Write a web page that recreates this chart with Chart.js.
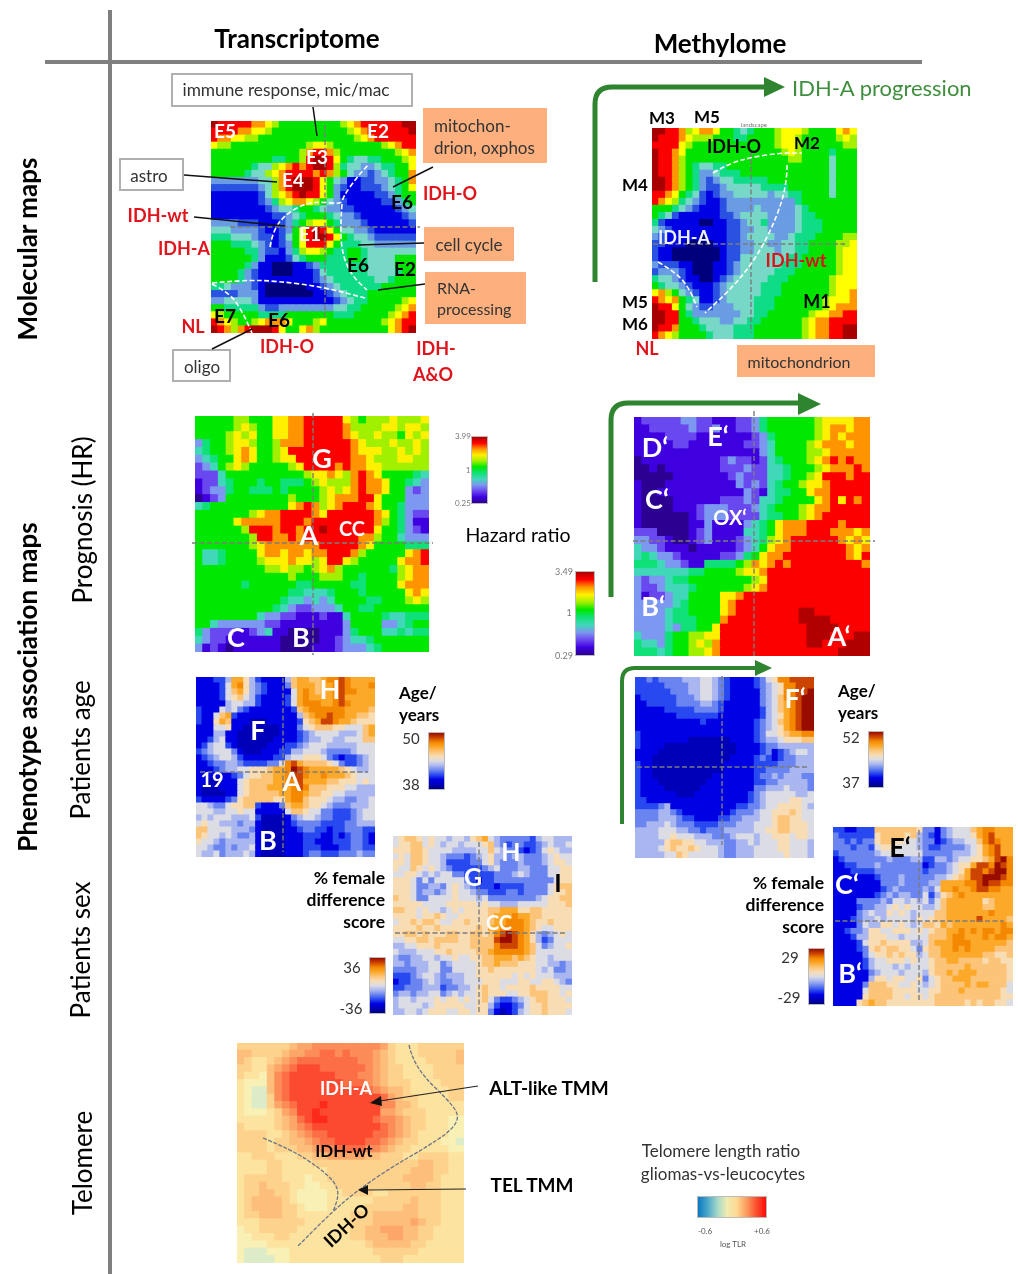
<!DOCTYPE html>
<html>
<head>
<meta charset="utf-8">
<title>Molecular and phenotype maps</title>
<script src="https://cdn.jsdelivr.net/npm/chart.js@4/dist/chart.umd.min.js"></script>
<style>
  html, body { margin: 0; padding: 0; background: #fff; }
  #page { position: relative; width: 1018px; height: 1274px; overflow: hidden; font-family: Lato, "Open Sans", sans-serif; color: #000; }
  #page canvas { position: absolute; filter: blur(0.6px); }
  #lines { position: absolute; left: 0; top: 0; }
  .note { position: absolute; white-space: nowrap; line-height: 1; }
  .box { position: absolute; box-sizing: border-box; }
  .bar { position: absolute; border: 1px solid #bbb; box-sizing: border-box; }
</style>
</head>
<body>
<div id="page"></div>
<script>
// Each map is 30 rows of 30 levels (0-9, a, b), spaces only for reading
const molTransRows = [
  "baaaaa9987 6666666667 89aaaaaabb",
  "aaaa998876 6666666666 789aaaaaab",
  "a998877666 6666666666 6789aaaaaa",
  "8776666666 6666788766 66666789aa",
  "6666666666 66679aa976 6666666789",
  "6666666665 5667abba86 5445566678",
  "6666665447 89a9abba75 4433455668",
  "6666654478 9aaaa9a976 4332345669",
  "3333333447 9abbba8643 1122334569",
  "2222222347 9abbba8632 1122234568",
  "1111111247 89abaa8631 1111223566",
  "1111111235 7899876432 1111122356",
  "1111111123 4456654332 2111111234",
  "1111111112 2345666543 3211111123",
  "3333222111 2356788653 3321111112",
  "4443333211 2368aba864 4332111111",
  "5554443221 2468abba86 5443222222",
  "6665554321 2368aaa865 5544333333",
  "6666655322 1357887655 6654444444",
  "6666665311 1245666555 6654444666",
  "6666653110 0011235555 5554444666",
  "6666532110 0011124555 5554444566",
  "6666532111 1111123455 5555445666",
  "5543332100 0000112345 5555566666",
  "2222333100 0000011234 5556666666",
  "3344443111 1111111123 4556666678",
  "6655555322 3333333344 5566666789",
  "8766666555 5666666655 566666789a",
  "a987667899 9866678666 66666789aa",
  "ba979abbba 8668976666 66666689ab"
];
const molMethRows = [
  "bbaa978998 6654566678 8876666898",
  "baaa987776 6655666678 8766666787",
  "aaaa876666 6666666678 8766666677",
  "baa9866666 6666666667 8766665666",
  "baa9766666 6666666666 7766664666",
  "baa9765445 5666666666 6666664666",
  "baa9765334 5556666666 6666664666",
  "bba9765323 4455555666 6666664666",
  "bba9765322 3444445555 6666664666",
  "aa98654212 3344444344 5566664666",
  "a987543211 2333333333 3566666666",
  "6665432111 2333343333 3456666666",
  "6542111111 2234444333 3455666666",
  "5211111001 1223445333 3455566666",
  "4321111111 1223344333 3455566666",
  "3211111011 1223444433 4555666677",
  "2211100001 1223344334 4556666778",
  "2110000000 1223344434 4556666788",
  "2110000000 1224444444 5566666788",
  "3222110001 1234444445 5566666788",
  "2333210001 1234444455 5666666788",
  "5443211001 2344444555 6666667888",
  "6544321112 3444445556 6666667888",
  "8976432112 3444445556 6666667889",
  "a989654112 3444455566 6666678889",
  "baa8643223 3344455566 6666678999",
  "bbaa653333 3334455666 66678899aa",
  "bbaa665444 3344556666 667899aaaa",
  "baa9666544 4455566666 667899aabb",
  "a987666654 4455566666 667899aabb"
];
const hrTransRows = [
  "6666677666 8899aaaaa8 7677787778",
  "6666678766 8899aaaaa9 7777887887",
  "6666787866 8899aaaaa9 8778776878",
  "3566788766 7999aaaaaa 9877787787",
  "4566789866 78aaaaaaaa 9888778787",
  "3456689866 788aaaaaaa 9987778877",
  "2346787666 6678aaaa9a 9988777777",
  "2224666666 6666788987 9a98666654",
  "1224566656 6555678777 9a99866543",
  "1233566555 6566667878 9a99866323",
  "0123666666 6676667899 9aa8666333",
  "4566666666 6689a9789a aa98665333",
  "6666666789 9aaaa98aaa aaa9865322",
  "6666689999 9aaa9aaaaa aaa9765311",
  "6666667aaa 9aa9aabaaa aaa8665321",
  "66666667aa 99a9aaaaaa a997664333",
  "6666666789 999999aaaa a986666555",
  "6445666689 9899899aaa 976666689a",
  "6445666678 8898878aa8 766666899a",
  "6666666667 7877678976 6666657899",
  "6666666666 6676667776 6566667899",
  "6666665666 6665566666 5566668999",
  "6666666666 6655444566 6566666898",
  "6666666666 6544343466 6655666787",
  "6666666666 5432233346 6556666666",
  "6666666643 3221112114 6666544555",
  "6643333332 2111111113 6666334566",
  "5322211234 1100001113 5666445455",
  "4322111111 1000001123 4456666666",
  "3121011111 1000011123 3345666666"
];
const hrMethRows = [
  "1222223322 1112235666 6667888899",
  "1122222322 3112235666 6667899899",
  "1111222211 1111123566 6667898999",
  "1111122111 1111223466 6678999899",
  "1111111111 1111113466 6677899999",
  "0111111111 1232212456 66789a9a99",
  "0010111111 1222322445 6667899 9a9",
  "0000011111 1123222445 6678aaa9aa",
  "1000111111 1113232456 67889aaaaa",
  "1001111111 1111321455 66899aaaaa",
  "1000011111 1222324456 66689a8a9a",
  "1000011123 3322234566 67899aaaaa",
  "1000000123 3322224556 6789aaaaaa",
  "1000000113 1111345689 99aaaa9aaa",
  "2220000123 1111445689 99aaa99989",
  "3322100123 1112345789 aaaaaa9898",
  "4332111011 1112346899 aaaaaaa989",
  "4543321111 1223568 99a aaaaaaa98a",
  "5554332115 5556798 9a9 aaaaaaaaa9",
  "4444444556 6667889aaa aaaaaaaaaa",
  "3233455666 6666678aaa aaaaaaaaaa",
  "3223444566 6666789aaa aaaaaaaaaa",
  "3122344666 6889aaaaaa aaaaaaaaaa",
  "3333345666 689aaaaaaa aaaaaaaaaa",
  "3333455666 689aaaaaaa abbaaaaaaa",
  "3333455566 69aaaaaaaa abbbbaaaaa",
  "3333435566 8aaaaaaaaa aabbbbaaaa",
  "4333566778 8aaaaaaaaa aabbbaaabb",
  "5443566787 9aaaaaaaaa aabbaaabbb",
  "5554566778 9aaaaaaaaa aaaaaabbbb"
];
const ageTransRows = [
  "1112248864 2111147887 7899a98888",
  "1111258964 3211137888 7889a98889",
  "1111257864 3211115898 7889a99888",
  "1111256754 2111125898 8889a88888",
  "1111145544 2111125899 9889a98888",
  "2111545321 1111112789 9999988887",
  "2115782111 1111111478 99a9988776",
  "2116871110 0011111267 8aa9887666",
  "1115561100 0000111356 7776655578",
  "1114411000 0000111234 5555444578",
  "1124511000 0001111234 4554455577",
  "1245521000 0011122345 5544444555",
  "2345553100 0111224455 5433334555",
  "1234554211 1112245566 6532122345",
  "1123344322 2233 59a877 7765322345",
  "1112344556 667889ba98 8888765445",
  "1111112356 677889aa98 8988876555",
  "1100111567 7778899a88 8877666565",
  "1000111567 7788889a97 7766655444",
  "1000011567 7777889987 7665544444",
  "2111123677 7776689976 6654433445",
  "5543356677 2111378876 6543334445",
  "5554455655 1111157765 5332223455",
  "4545554445 2000013455 4332223455",
  "5655444344 1000012333 3222233444",
  "7755554443 1000011233 2212233322",
  "7655454334 1000011122 2112123321",
  "6554344444 1000011122 1112223321",
  "5543343445 1000011122 2111223322",
  "5445344454 1000011123 3222333433"
];
const ageMethRows = [
  "2232333344 4554321111 2356 99aaaa",
  "2222233334 4554321111 2345699aaa",
  "2222223334 4554321111 1345699aab",
  "1222222333 4554321111 1345799abb",
  "1122222333 3443211111 1345789abb",
  "1111122222 3333211111 1245789abb",
  "1111111222 2222111111 1245689abb",
  "1111111111 1211111111 2345789abb",
  "1111111111 1111111111 2345689abb",
  "2111111111 1111111111 2355678899",
  "2111111110 0000001111 2344566677",
  "2111100000 0000000111 1233444444",
  "1111000000 0000000111 1231234554",
  "1110000000 0000001111 2321233444",
  "2110000000 0000011111 2222333444",
  "2110000000 0000011111 2233334444",
  "2110000000 0001111111 2334344433",
  "2111000000 0011111111 2233444443",
  "2111100000 0111111111 3344454443",
  "2111111000 1111111112 3455555445",
  "2211111111 1111111112 3455556655",
  "2222341111 1111111223 3455666654",
  "3333443211 1111112333 4556667655",
  "3333444322 1111223344 4556776655",
  "3344454333 2222333444 5556776665",
  "4444555443 3233344444 5566776665",
  "4444556555 4443334555 4556665665",
  "4444467766 5544433445 4555665554",
  "4444567667 6555433444 5555665554",
  "4444455765 5555433444 5555565554"
];
const sexTransRows = [
  "5677656554 5546785433 3332455444",
  "5667756545 5455567432 3322345445",
  "6667765555 4444557543 3212356544",
  "5657765543 3323456443 4433345655",
  "6657765542 2223356433 3433345665",
  "6557656543 2222234533 3443335566",
  "5566545455 3322222333 4543335566",
  "6665353555 5532122333 3333333566",
  "6665334435 6543222122 2233335677",
  "6665344345 6554332223 3233335667",
  "7665335555 6555453333 3333456677",
  "6666655556 6666565544 4555556667",
  "7766565545 6566667788 8667766666",
  "6666566765 5666667888 9887766666",
  "5667677655 6676667889 9987667666",
  "6666766766 6666768899 9987655666",
  "6677676667 7667767 9ab a986434565",
  "5566776777 7667777abb a986423555",
  "4455666766 6667777 9aa a987534556",
  "5444555667 6666778 999 9987555555",
  "4334455455 6556677888 7876554555",
  "4434445534 5555677877 7666554434",
  "3333445533 5555667666 6666545334",
  "2223455434 4455666666 5656555444",
  "1223345433 4455566655 5665566543",
  "2233344423 3445676656 6667666655",
  "3443445534 5455676665 5667776656",
  "4554555656 6565675322 3456776665",
  "4555545666 6655664211 2356676666",
  "4455456665 5665663101 2456676665"
];
const sexMethRows = [
  "2211222777 7777633134 5557899888",
  "3222222677 7767432134 555689a888",
  "3323233677 6655433123 445579a988",
  "3332332566 5555432233 3345689a88",
  "2333333455 5555533333 4445689a88",
  "1233333334 3334422443 4556678ab9",
  "1122333433 3333312334 5668aa9ba9",
  "1112222333 3333323334 568aa9abb9",
  "1111111233 3433333445 678aabbba9",
  "1111111133 3433334488 8899abaa99",
  "1111111123 4333343588 9889aa9988",
  "1111111234 3443352467 8988888888",
  "1111333343 5545453578 8888867888",
  "1111233445 6565544578 8888877888",
  "1111345446 5654555778 8888889888",
  "1112344545 5554656778 8888a88887",
  "1111354466 5654577687 8888888898",
  "1123346655 6665656778 8989899899",
  "1112446665 5455557778 9988898998",
  "1111256676 6664457888 9998888887",
  "1111236767 7665367788 9898888777",
  "1111135667 6766457788 8888877667",
  "1111124556 6656556778 8777767766",
  "1111124555 4545556777 7787777776",
  "1111113455 5455546778 7888777776",
  "1111114665 6655635677 8887777776",
  "1111137776 6556545677 7787887775",
  "1111157777 6666556677 7877777765",
  "1111167777 6656656777 7777777766",
  "1111678776 6666666777 7767677665"
];
const telomereRows = [
  "3333333455 6666666665 3222333333",
  "4433334556 6776766654 3222333334",
  "4322345677 7777776654 3222233334",
  "3322456788 8777777654 3322223333",
  "3221467888 8887776654 3322223333",
  "2111467888 8888777654 3332222333",
  "2100467888 8888888765 4432222233",
  "2100367888 8888888887 5433222233",
  "2100356788 8988888886 6443222222",
  "2111235688 9888888885 5433322222",
  "2222234578 9988888876 6543322211",
  "3222234567 8888888887 6543322211",
  "3333223456 7788888877 6543222211",
  "3333233445 6778888776 5433222110",
  "3333233344 5667777665 4332222211",
  "2233322233 4455555443 3322333322",
  "2222332222 3333333333 3333443322",
  "2222332222 2233333333 3334443322",
  "2333332221 2233333333 3344443222",
  "2334333221 1223333333 3334433222",
  "2334433211 1122333322 3333333222",
  "2344443211 1122222233 3334333222",
  "2344443321 1122222333 3344333222",
  "2334443322 2222233344 4444333222",
  "2223333332 2222233344 4445433222",
  "1223333322 2222233445 5544332222",
  "1122233222 2222233444 5544332222",
  "1111222222 2222222344 4443322222",
  "1000111222 2222222233 3333222222",
  "1000011222 2222222223 3322222222"
];

// colours for levels 0..b
const rainbowColors = ["#00007c", "#0000e4", "#2a52e2", "#6a9ce4", "#78d8c8", "#10dc88", "#00e400", "#a4f000", "#ffff00", "#ff9800", "#fa0000", "#a80000"];
const hazardColors = ["#2c0090", "#3f00e0", "#6a48f0", "#7c98f0", "#40d8b8", "#10e078", "#00e800", "#a0f000", "#fff000", "#ff9400", "#fc0000", "#b00000"];
const ageSexColors = ["#0000b8", "#0000e4", "#2848f0", "#6a84f0", "#aab6f0", "#dcdce4", "#f8dcb4", "#fcc478", "#fca828", "#f48800", "#cc4400", "#980c00"];
const ageSexBarColors = ["#000080", ...ageSexColors];
const telomereColors = ["#dcebc8", "#f8f0b4", "#fde3a0", "#fdd28c", "#fdbe7c", "#fda66a", "#fc8c58", "#fc6e46", "#fc4a30", "#fc2a1c"];
const telomereBarColors = ["#0a78c0", "#4aa8c8", "#a4d8c8", "#f0ecb0", "#fdd890", "#fc9c60", "#fc5030", "#fc0a0a"];

const page = document.getElementById('page');

/////////////////////////////// Heatmaps //////////////////////////////////
const drawHeatmap = (rows, colors, left, top, width, height) => {
    const canvas = document.createElement('canvas');
    canvas.width = width;
    canvas.height = height;
    canvas.style.left = left + 'px';
    canvas.style.top = top + 'px';
    page.appendChild(canvas);

    const cells = [];
    rows.forEach((row, y) => {
        row.replace(/ /g, '').split('').forEach((ch, x) => {
            cells.push({ x: x, y: y, level: parseInt(ch, 12) });
        });
    });
    const side = Math.max(width / rows.length, height / rows.length) + 1;

    new Chart(canvas, {
        type: 'scatter',
        data: {
            datasets: [{
                data: cells,
                pointStyle: 'rect',
                pointRadius: side * Math.SQRT1_2,
                borderWidth: 0,
                pointBorderWidth: 0,
                backgroundColor: ctx => colors[ctx.raw.level]
            }]
        },
        options: {
            responsive: false,
            animation: false,
            events: [],
            layout: { padding: 0, autoPadding: false },
            scales: {
                x: { display: false, min: -0.5, max: rows.length - 0.5 },
                y: { display: false, reverse: true, min: -0.5, max: rows.length - 0.5 }
            },
            plugins: { legend: { display: false }, tooltip: { enabled: false } }
        }
    });
};

drawHeatmap(molTransRows, rainbowColors, 211, 121, 205, 212);
drawHeatmap(molMethRows, rainbowColors, 652, 128, 205, 211);
drawHeatmap(hrTransRows, hazardColors, 195, 416, 234, 236);
drawHeatmap(hrMethRows, hazardColors, 634, 417, 236, 239);
drawHeatmap(ageTransRows, ageSexColors, 196, 677, 179, 180);
drawHeatmap(ageMethRows, ageSexColors, 635, 677, 179, 181);
drawHeatmap(sexTransRows, ageSexColors, 393, 836, 179, 179);
drawHeatmap(sexMethRows, ageSexColors, 833, 827, 180, 179);
drawHeatmap(telomereRows, telomereColors, 237, 1043, 227, 220);

/////////////////////////////// Colour bars //////////////////////////////////
const addBar = (colors, left, top, width, height, direction) => {
    const bar = document.createElement('div');
    bar.className = 'bar';
    bar.style.cssText = `left:${left}px;top:${top}px;width:${width}px;height:${height}px;` +
        `background:linear-gradient(${direction}, ${colors.join(',')})`;
    page.appendChild(bar);
};
addBar(hazardColors, 471, 436, 17, 68, 'to top');
addBar(hazardColors, 575, 571, 20, 85, 'to top');
addBar(ageSexBarColors, 428, 732, 17, 58, 'to top');
addBar(ageSexBarColors, 868, 731, 16, 57, 'to top');
addBar(ageSexBarColors, 369, 957, 17, 57, 'to top');
addBar(ageSexBarColors, 808, 948, 17, 57, 'to top');
addBar(telomereBarColors, 697, 1196, 70, 22, 'to right');

/////////////////////////////// Boxes //////////////////////////////////
const addBox = (left, top, width, height, isOrange) => {
    const box = document.createElement('div');
    box.className = 'box';
    box.style.cssText = `left:${left}px;top:${top}px;width:${width}px;height:${height}px;` +
        (isOrange ? 'background:#fdb07e;' : 'background:#fff;border:2px solid #b0b0b0;');
    page.appendChild(box);
};
addBox(171, 73, 242, 34, false);
addBox(119, 158, 65, 33, false);
addBox(172, 349, 59, 33, false);
addBox(423, 108, 124, 55, true);
addBox(424, 227, 90, 34, true);
addBox(425, 272, 101, 52, true);
addBox(737, 345, 138, 32, true);

/////////////////////////////// Lines //////////////////////////////////
const svgNS = 'http://www.w3.org/2000/svg';
const svg = document.createElementNS(svgNS, 'svg');
svg.setAttribute('id', 'lines');
svg.setAttribute('width', 1018);
svg.setAttribute('height', 1274);
page.appendChild(svg);

const addPath = (d, stroke, width, dash) => {
    const p = document.createElementNS(svgNS, 'path');
    p.setAttribute('d', d);
    p.setAttribute('fill', 'none');
    p.setAttribute('stroke', stroke);
    p.setAttribute('stroke-width', width);
    if (dash) p.setAttribute('stroke-dasharray', dash);
    svg.appendChild(p);
};
const addHead = (pts, fill) => {
    const p = document.createElementNS(svgNS, 'polygon');
    p.setAttribute('points', pts);
    p.setAttribute('fill', fill);
    svg.appendChild(p);
};
const smooth = (pts) => {
    let d = `M${pts[0][0]} ${pts[0][1]}`;
    for (let i = 1; i < pts.length - 1; i++) {
        const mx = (pts[i][0] + pts[i + 1][0]) / 2;
        const my = (pts[i][1] + pts[i + 1][1]) / 2;
        d += ` Q${pts[i][0]} ${pts[i][1]} ${mx} ${my}`;
    }
    const last = pts[pts.length - 1];
    return d + ` L${last[0]} ${last[1]}`;
};

// frame
addPath('M110 10 V1274', '#7f7f7f', 4);
addPath('M45 62 H922', '#7f7f7f', 4);

// crosshairs on the maps
[
    [230, 420, 227, 325, 125, 317],
    [653, 845, 244, 751, 152, 333],
    [192, 433, 543, 313, 413, 655],
    [633, 875, 541, 754, 411, 657],
    [200, 368, 772, 283, 678, 852],
    [637, 807, 767, 722, 676, 845],
    [395, 565, 933, 479, 842, 1012],
    [835, 1004, 921, 919, 830, 1000]
].forEach(([x1, x2, y, x, y1, y2]) => {
    addPath(`M${x1} ${y} H${x2}`, '#7c7c7c', 1.4, '5 2.5');
    addPath(`M${x} ${y1} V${y2}`, '#7c7c7c', 1.4, '5 2.5');
});

// white cluster borders
[
    [[270, 247], [273, 230], [287, 213], [307, 203], [323, 202], [342, 204], [343, 197], [357, 177], [369, 164]],
    [[342, 204], [340, 230], [343, 257], [353, 277], [367, 290]],
    [[212, 283], [243, 280], [277, 281], [323, 287], [365, 298]],
    [[212, 284], [230, 293], [243, 313], [252, 333]],
    [[713, 173], [730, 163], [753, 157], [780, 153], [802, 153]],
    [[787, 165], [787, 183], [777, 217], [757, 257], [733, 287], [705, 313]],
    [[658, 262], [677, 273], [690, 290], [697, 307]]
].forEach(pts => addPath(smooth(pts), '#fff', 1.6, '5 2.5'));

// leader lines
[
    [313, 107, 317, 136], [184, 175, 277, 182], [194, 217, 285, 226], [212, 349, 252, 329],
    [433, 167, 393, 187], [358, 245, 424, 243], [378, 290, 425, 284]
].forEach(([x1, y1, x2, y2]) => addPath(`M${x1} ${y1} L${x2} ${y2}`, '#111', 1.5));

// green progression arrows
const arrowGreen = '#2f842f';
addPath('M595 282 V104 Q595 87 612 87 H766', arrowGreen, 5);
addHead('764,77 785,87 764,97', arrowGreen);
addPath('M611 597 V420 Q611 403 628 403 H800', arrowGreen, 5);
addHead('798,393 821,404 798,415', arrowGreen);
addPath('M622 824 V681 Q622 668 635 668 H756', arrowGreen, 4);
addHead('755,660 772,668 755,676', arrowGreen);

// telomere map
[
    [[409, 1045], [412, 1058], [425, 1078], [445, 1097], [460, 1115], [452, 1130], [425, 1148], [392, 1167], [358, 1190], [332, 1212], [298, 1246]],
    [[263, 1138], [292, 1150], [318, 1167], [335, 1182], [339, 1195], [333, 1212]]
].forEach(pts => addPath(smooth(pts), '#6c7488', 1.3, '4 1.5'));
addPath('M478 1086 L380 1101', '#222', 1.2);
addHead('370,1103 381,1096 382,1106', '#111');
addPath('M466 1189 L366 1190', '#222', 1.2);
addHead('358,1190 368,1185 368,1195', '#111');

/////////////////////////////// Text //////////////////////////////////
const RED = '#e0141c';
const WHITE = '#fff';
const BLACK = '#000';
const GREY = '#333';
const SMALL = '#777';

// text, centre x, centre y, size, colour, bold
const notes = [
    ['Transcriptome', 297, 38, 26, BLACK, 1],
    ['Methylome', 720, 43, 26, BLACK, 1],
    ['E5', 225, 130, 19, WHITE, 1], ['E2', 378, 130, 19, WHITE, 1], ['E3', 317, 156, 19, WHITE, 1],
    ['E4', 293, 179, 19, WHITE, 1], ['E1', 310, 233, 19, WHITE, 1], ['E6', 402, 201, 19, BLACK, 1],
    ['E6', 358, 264, 19, BLACK, 1], ['E2', 405, 268, 19, BLACK, 1], ['E7', 225, 315, 19, BLACK, 1],
    ['E6', 279, 319, 19, BLACK, 1],
    ['IDH-wt', 158, 215, 18, RED, 1], ['IDH-A', 184, 248, 18, RED, 1], ['IDH-O', 450, 193, 18, RED, 1],
    ['NL', 193, 326, 18, RED, 1], ['IDH-O', 287, 346, 18, RED, 1], ['IDH-', 436, 348, 18, RED, 1],
    ['A&O', 433, 374, 18, RED, 1],
    ['immune response, mic/mac', 286, 90, 17.3, GREY], ['astro', 149, 175, 17, GREY], ['oligo', 202, 366, 17, GREY],
    ['cell cycle', 469, 244, 17, GREY], ['mitochondrion', 799, 362, 16, GREY],
    ['M3', 662, 117, 17, BLACK, 1], ['M5', 707, 116, 17, BLACK, 1], ['IDH-O', 734, 146, 18, BLACK, 1],
    ['M2', 807, 142, 17, BLACK, 1], ['M4', 635, 184, 17, BLACK, 1], ['IDH-A', 684, 237, 18, '#eaf0ff', 1],
    ['IDH-wt', 796, 260, 18, '#d8141c', 1], ['M1', 817, 301, 18, BLACK, 1], ['M5', 635, 301, 17, BLACK, 1],
    ['M6', 635, 323, 17, BLACK, 1], ['NL', 647, 348, 18, RED, 1],
    ['G', 322, 457, 27, WHITE, 1], ['A', 309, 534, 27, WHITE, 1], ['CC', 352, 528, 20, WHITE, 1],
    ['C', 236, 636, 27, WHITE, 1], ['B', 301, 636, 27, WHITE, 1],
    ['Hazard ratio', 518, 535, 19.5, BLACK],
    ['D‘', 655, 446, 27, WHITE, 1], ['E‘', 718, 435, 27, WHITE, 1], ['C‘', 657, 498, 27, WHITE, 1],
    ['OX‘', 730, 517, 20, WHITE, 1], ['B‘', 653, 605, 27, WHITE, 1], ['A‘', 839, 635, 27, WHITE, 1],
    ['H', 330, 688, 27, WHITE, 1], ['F', 258, 729, 27, WHITE, 1], ['19', 212, 779, 20, WHITE, 1],
    ['A', 292, 780, 27, WHITE, 1], ['B', 268, 839, 27, WHITE, 1],
    ['F‘', 795, 697, 27, WHITE, 1],
    ['G', 473, 876, 25, WHITE, 1], ['H', 511, 851, 25, WHITE, 1], ['I', 558, 882, 25, BLACK, 1], ['CC', 499, 922, 20, WHITE, 1],
    ['E‘', 900, 846, 27, BLACK, 1], ['C‘', 847, 883, 27, WHITE, 1], ['B‘', 850, 972, 27, WHITE, 1],
    ['50', 411, 738, 15, GREY], ['38', 411, 784, 15, GREY], ['52', 851, 737, 15, GREY], ['37', 851, 782, 15, GREY],
    ['36', 352, 967, 15, GREY], ['-36', 351, 1008, 15, GREY], ['29', 790, 957, 15, GREY], ['-29', 789, 997, 15, GREY],
    ['3.99', 463, 436, 8, SMALL], ['1', 468, 470, 8, SMALL], ['0.25', 463, 503, 8, SMALL],
    ['3.49', 564, 571, 9, SMALL], ['1', 569, 612, 9, SMALL], ['0.29', 564, 655, 9, SMALL],
    ['landscape', 754, 125, 6, SMALL],
    ['IDH-A', 346, 1088, 18, WHITE, 1], ['IDH-wt', 344, 1150, 17, BLACK, 1],
    ['ALT-like TMM', 549, 1087, 19, BLACK, 1], ['TEL TMM', 532, 1184, 19, BLACK, 1],
    ['Telomere length ratio', 721, 1150, 17, GREY], ['gliomas-vs-leucocytes', 723, 1173, 17, GREY],
    ['-0.6', 705, 1231, 8, '#555'], ['+0.6', 762, 1231, 8, '#555'], ['log TLR', 733, 1244, 8, '#555']
];

// text, left x, centre y, size, colour, bold
const leftNotes = [
    ['mitochon-', 434, 125, 17, GREY], ['drion, oxphos', 434, 147, 17, GREY],
    ['RNA-', 437, 288, 16, GREY], ['processing', 437, 309, 16, GREY],
    ['IDH-A progression', 792, 88, 22, '#3f8f3f'],
    ['Age/', 399, 692, 17, BLACK, 1], ['years', 399, 714, 17, BLACK, 1],
    ['Age/', 838, 690, 17, BLACK, 1], ['years', 838, 712, 17, BLACK, 1]
];

// text, right x, centre y, size, colour, bold
const rightNotes = [
    ['% female', 385, 878, 17.5, BLACK, 1], ['difference', 385, 900, 17.5, BLACK, 1], ['score', 385, 922, 17.5, BLACK, 1],
    ['% female', 824, 883, 17.5, BLACK, 1], ['difference', 824, 905, 17.5, BLACK, 1], ['score', 824, 927, 17.5, BLACK, 1]
];

// text, centre x, centre y, size, bold, rotation
const turnedNotes = [
    ['Molecular maps', 27, 249, 26, 1, -90],
    ['Phenotype association maps', 27, 687, 26, 1, -90],
    ['Prognosis (HR)', 82, 520, 26, 0, -90],
    ['Patients age', 80, 750, 26, 0, -90],
    ['Patients sex', 80, 950, 26, 0, -90],
    ['Telomere', 82, 1163, 26, 0, -90],
    ['IDH-O', 346, 1225, 18, 1, -43]
];

const addNote = (text, x, y, size, color, bold, shift, rot) => {
    const el = document.createElement('div');
    el.className = 'note';
    el.textContent = text;
    el.style.left = x + 'px';
    el.style.top = y + 'px';
    el.style.fontSize = size + 'px';
    el.style.color = color;
    el.style.fontWeight = bold ? 700 : 400;
    el.style.transform = `translate(${shift}, -50%)` + (rot ? ` rotate(${rot}deg)` : '');
    page.appendChild(el);
};
notes.forEach(([t, x, y, s, c, b]) => addNote(t, x, y, s, c, b, '-50%'));
leftNotes.forEach(([t, x, y, s, c, b]) => addNote(t, x, y, s, c, b, '0'));
rightNotes.forEach(([t, x, y, s, c, b]) => addNote(t, x, y, s, c, b, '-100%'));
turnedNotes.forEach(([t, x, y, s, b, r]) => addNote(t, x, y, s, BLACK, b, '-50%', r));
</script>
</body>
</html>
